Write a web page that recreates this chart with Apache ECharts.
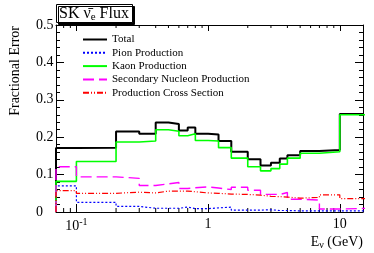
<!DOCTYPE html>
<html>
<head>
<meta charset="utf-8">
<script src="https://cdn.jsdelivr.net/npm/echarts@6/dist/echarts.min.js"></script>
<style>html,body{margin:0;padding:0;background:#fff}#c{width:374px;height:253px}</style>
</head>
<body>
<div id="c"></div>
<script>
// Bin edges (GeV); last bin extends past the visible range
const binEdges = [0.07, 0.1, 0.2, 0.3, 0.4, 0.5, 0.6, 0.7, 0.8, 1.0, 1.2, 1.5, 2.0, 2.5, 3.0, 3.5, 4.0, 5.0, 7.0, 10.0, 30.0];
const total      = [0.171, 0.172, 0.215, 0.209, 0.239, 0.235, 0.218, 0.226, 0.209, 0.207, 0.190, 0.161, 0.141, 0.124, 0.132, 0.143, 0.152, 0.163, 0.166, 0.262];
const pion       = [0.070, 0.026, 0.015, 0.010, 0.010, 0.010, 0.013, 0.009, 0.009, 0.011, 0.013, 0.005, 0.005, 0.006, 0.004, 0.004, 0.003, 0.003, 0.003, 0.003];
const kaon       = [0.082, 0.135, 0.187, 0.190, 0.220, 0.216, 0.204, 0.209, 0.191, 0.190, 0.172, 0.144, 0.121, 0.110, 0.116, 0.128, 0.144, 0.157, 0.161, 0.260];
const secondary  = [0.121, 0.094, 0.090, 0.071, 0.075, 0.079, 0.063, 0.065, 0.067, 0.064, 0.060, 0.066, 0.058, 0.047, 0.047, 0.052, 0.034, 0.032, 0.008, 0.012];
const prodXsec   = [0.057, 0.050, 0.053, 0.051, 0.056, 0.056, 0.056, 0.054, 0.051, 0.050, 0.048, 0.047, 0.045, 0.042, 0.041, 0.040, 0.037, 0.039, 0.046, 0.036];
const seriesNames = ['Total', 'Pion Production', 'Kaon Production', 'Secondary Nucleon Production', 'Production Cross Section'];
const yTickLabels = ['0', '0.1', '0.2', '0.3', '0.4', '0.5'];
const xMin = 0.07, xMax = 15;

const FONT = 'Liberation Serif';

function stepData(vals) {
  const d = [[binEdges[0], 0]];
  for (let i = 0; i < vals.length; i++) d.push([binEdges[i], vals[i]]);
  d.push([binEdges[vals.length], vals[vals.length - 1]]);
  return d;
}

// minor tick positions for log axis (2..9 x decade)
const minorTicks = [];
for (let k = -2; k <= 1; k++) {
  for (let m = 2; m <= 9; m++) {
    const v = m * Math.pow(10, k);
    if (v > xMin && v < xMax) minorTicks.push([v, 0]);
  }
}

const styles = [
  { color: '#000000', width: 2, type: 'solid' },
  { color: '#0000ff', width: 1.2, type: [2, 2] },
  { color: '#00ff00', width: 1.6, type: 'solid' },
  { color: '#ff00ff', width: 1.4, type: [11, 5] },
  { color: '#ff0000', width: 1.2, type: [6, 2, 1, 2, 1, 2] }
];
const valsList = [total, pion, kaon, secondary, prodXsec];

const chart = echarts.init(document.getElementById('c'), null, { renderer: 'canvas' });

const series = valsList.map((v, i) => ({
  name: seriesNames[i],
  type: 'line',
  step: 'end',
  data: stepData(v),
  symbol: 'none',
  clip: true,
  xAxisIndex: 0, yAxisIndex: 0,
  lineStyle: { color: styles[i].color, width: styles[i].width, type: styles[i].type },
  itemStyle: { color: styles[i].color },
  animation: false
}));

series.push({
  type: 'custom',
  name: 'minorTicks',
  xAxisIndex: 0, yAxisIndex: 0,
  data: minorTicks,
  silent: true,
  clip: false,
  animation: false,
  renderItem: function (params, api) {
    const p = api.coord([api.value(0), 0]);
    const cs = params.coordSys;
    const yb = cs.y + cs.height, yt = cs.y;
    return {
      type: 'group',
      children: [
        { type: 'line', shape: { x1: p[0], y1: yb, x2: p[0], y2: yb - 4 }, style: { stroke: '#000', lineWidth: 1 } },
        { type: 'line', shape: { x1: p[0], y1: yt, x2: p[0], y2: yt + 3 }, style: { stroke: '#000', lineWidth: 1 } }
      ]
    };
  }
});

const xAxisCommon = {
  type: 'log',
  logBase: 10,
  min: xMin,
  max: xMax,
  splitLine: { show: false },
  axisLine: { show: true, onZero: false, lineStyle: { color: '#000', width: 1 } },
  axisTick: { show: true, inside: true, length: 8, lineStyle: { color: '#000', width: 1 } }
};
const yAxisCommon = {
  type: 'value',
  min: 0,
  max: 0.5,
  interval: 0.1,
  splitLine: { show: false },
  axisLine: { show: true, lineStyle: { color: '#000', width: 1 } },
  axisTick: { show: true, inside: true, length: 8, lineStyle: { color: '#000', width: 1 } },
  minorTick: { show: true, splitNumber: 5, length: 4, lineStyle: { color: '#000', width: 1 } }
};

const option = {
  animation: false,
  backgroundColor: '#fff',
  grid: { left: 56, right: 11, top: 25, bottom: 41, containLabel: false },
  title: {
    text: 'SK {nu|ν̄}{sub|e} Flux',
    left: 56, top: 3,
    padding: [1, 4, 0, 3],
    borderColor: '#000', borderWidth: 1,
    backgroundColor: '#fff',
    shadowColor: '#000', shadowOffsetX: 2, shadowOffsetY: 2, shadowBlur: 0,
    textStyle: {
      fontFamily: FONT, fontSize: 16, fontWeight: 'normal', color: '#000',
      rich: {
        nu: { fontFamily: FONT, fontSize: 16, color: '#000' },
        sub: { fontFamily: FONT, fontSize: 11, color: '#000', padding: [8, 0, 0, 0] }
      }
    }
  },
  legend: {
    orient: 'vertical',
    left: 82, top: 34,
    padding: 0,
    itemWidth: 24, itemHeight: 8, itemGap: 2.3,
    data: seriesNames,
    itemStyle: { opacity: 0 },
    textStyle: { fontFamily: FONT, fontSize: 11, color: '#000' },
    selectedMode: false
  },
  xAxis: [
    Object.assign({}, xAxisCommon, {
      position: 'bottom',
      axisLabel: {
        show: true, margin: 5, showMinLabel: false, showMaxLabel: false,
        fontFamily: FONT, fontSize: 14, color: '#000',
        formatter: function (v) {
          const l = Math.log10(v);
          if (Math.abs(l - Math.round(l)) > 1e-6) return '';
          const e = Math.round(l);
          if (e === 0) return '1';
          if (e === 1) return '10';
          return '10{sup|' + e + '}';
        },
        rich: { sup: { fontFamily: FONT, fontSize: 10, color: '#000', padding: [0, 0, 8, 0] } }
      }
    }),
    Object.assign({}, xAxisCommon, {
      position: 'top',
      axisTick: { show: true, inside: true, length: 6, lineStyle: { color: '#000', width: 1 } },
      axisLabel: { show: false }
    })
  ],
  yAxis: [
    Object.assign({}, yAxisCommon, {
      position: 'left',
      axisLabel: {
        show: true, margin: 20, align: 'left',
        fontFamily: FONT, fontSize: 14, color: '#000',
        formatter: function (v) { return yTickLabels[Math.round(v * 10)]; }
      }
    }),
    Object.assign({}, yAxisCommon, {
      position: 'right',
      axisLabel: { show: false }
    })
  ],
  graphic: [
    {
      type: 'text',
      x: 15, y: 26,
      rotation: Math.PI / 2,
      style: {
        text: 'Fractional Error',
        fontFamily: FONT, fontSize: 14, fill: '#000',
        align: 'right', verticalAlign: 'middle'
      }
    },
    {
      type: 'text',
      x: 363, y: 242,
      style: {
        text: 'E{sub|ν} (GeV)',
        fontFamily: FONT, fontSize: 14, fill: '#000',
        align: 'right', verticalAlign: 'middle',
        rich: { sub: { fontFamily: FONT, fontSize: 10, fill: '#000', padding: [7, 0, 0, 0] } }
      }
    }
  ],
  series: series
};

chart.setOption(option);
</script>
</body>
</html>
